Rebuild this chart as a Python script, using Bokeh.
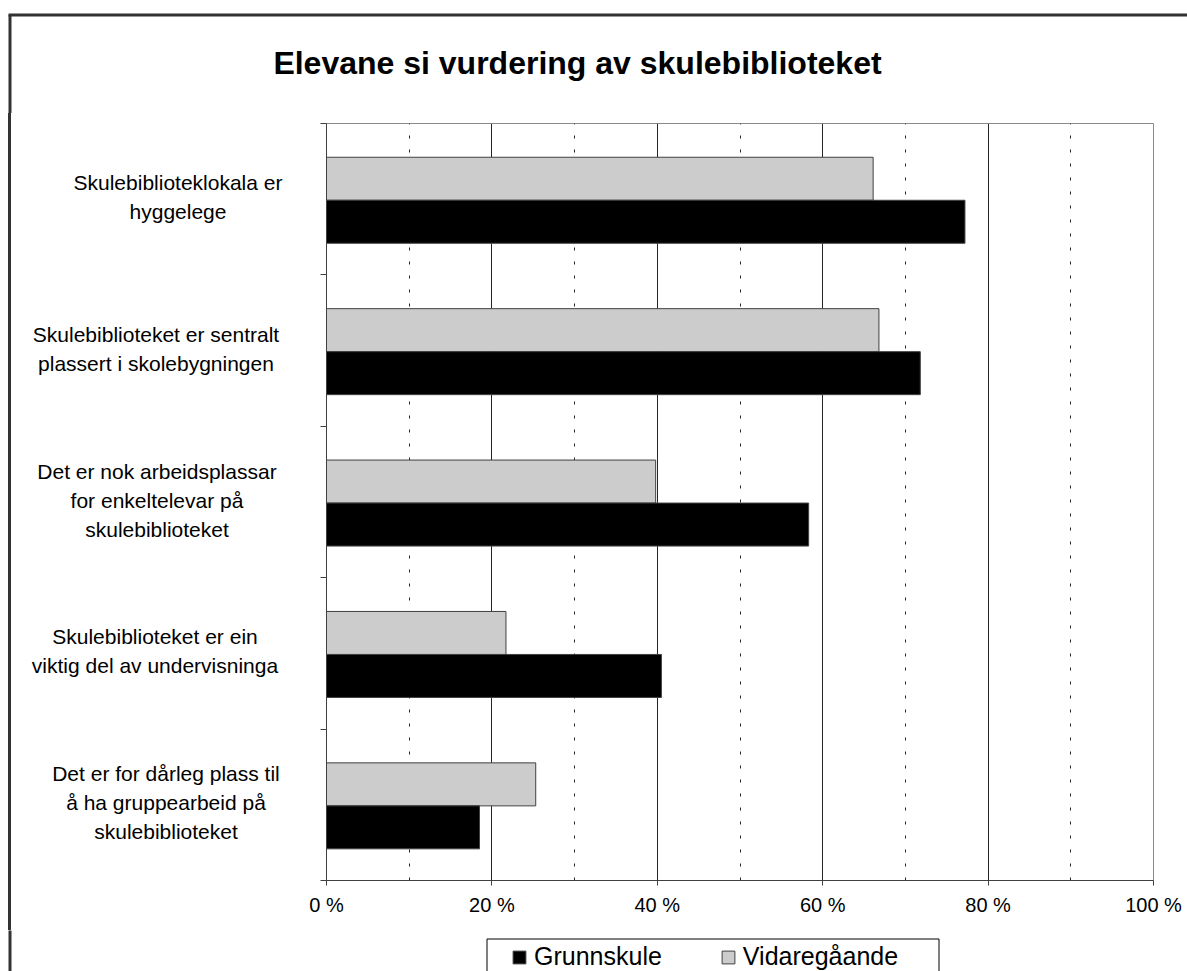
from bokeh.plotting import figure
from bokeh.layouts import column, row
from bokeh.models import Range1d, FixedTicker, Legend, LegendItem, ColumnDataSource, Div
from bokeh.core.properties import value
from bokeh.transform import dodge
from bokeh.embed import file_html
from bokeh.resources import INLINE

# ---------------- data ----------------
title_text = "Elevane si vurdering av skulebiblioteket"
categories = [
    "Skulebiblioteklokala er hyggelege",
    "Skulebiblioteket er sentralt plassert i skolebygningen",
    "Det er nok arbeidsplassar for enkeltelevar på skulebiblioteket",
    "Skulebiblioteket er ein viktig del av undervisninga",
    "Det er for dårleg plass til å ha gruppearbeid på skulebiblioteket",
]
category_lines = [
    ["Skulebiblioteklokala er", "hyggelege"],
    ["Skulebiblioteket er sentralt", "plassert i skolebygningen"],
    ["Det er nok arbeidsplassar", "for enkeltelevar på", "skulebiblioteket"],
    ["Skulebiblioteket er ein", "viktig del av undervisninga"],
    ["Det er for dårleg plass til", "å ha gruppearbeid på", "skulebiblioteket"],
]
series_names = ["Grunnskule", "Vidaregåande"]
grunnskule = [77.2, 71.8, 58.3, 40.5, 18.5]
vidaregaande = [66.1, 66.8, 39.8, 21.7, 25.3]
x_ticks = [0, 20, 40, 60, 80, 100]
x_tick_labels = ["0 %", "20 %", "40 %", "60 %", "80 %", "100 %"]
x_minor_ticks = [10, 30, 50, 70, 90]

# ---------------- layout (picture pixels) ----------------
TOTAL_W, TOTAL_H = 1187, 971
FL, FR, FT, FB = 326, 1153, 123, 880        # chart frame
TOP_H = 113                                  # title strip height
MID_H = 930 - TOP_H                          # chart strip height
BOT_H = TOTAL_H - TOP_H - MID_H              # legend strip height
LEFT_W = 300                                 # category-label column width
N = len(categories)
BAND = (FB - FT) / N
label_centers = [178, 156, 157, 155, 166]    # centre x of each category label block
LINE_STEP = 29
LABEL_NUDGE = -1.5
FONT = "Liberation Sans"
FRAME_X, FRAME_Y = 9.5, 14.5                 # outer chart border (centre of 3px line)
BORDER_COLOR = "#333333"
GRAY = "#CCCCCC"
EDGE = "#404040"


def blank(width, height, y_top, y_bottom):
    f = figure(width=width, height=height,
               x_range=Range1d(0, width), y_range=Range1d(y_bottom, y_top),
               x_axis_location=None, y_axis_location=None,
               toolbar_location=None, output_backend="svg", min_border=0)
    f.outline_line_color = None
    f.grid.visible = False
    f.background_fill_color = "white"
    f.border_fill_color = "white"
    return f


# ---------------- title strip ----------------
top = blank(TOTAL_W, TOP_H, 0, TOP_H)
top.text(x=[577], y=[62], text=[title_text], text_align="center", text_baseline="middle",
         text_font=value(FONT), text_font_size="32px", text_font_style="bold",
         text_color="black")
top.segment(x0=[FRAME_X - 1.5], y0=[FRAME_Y], x1=[TOTAL_W + 5], y1=[FRAME_Y],
            line_color=BORDER_COLOR, line_width=3)
top.segment(x0=[FRAME_X], y0=[FRAME_Y], x1=[FRAME_X], y1=[TOP_H + 5],
            line_color=BORDER_COLOR, line_width=3)

# ---------------- category label column (HTML text) ----------------
parts = ['<div style="position:relative;width:%dpx;height:%dpx;font-family:\'%s\';'
         'font-size:21px;line-height:%dpx;color:black;">' % (LEFT_W, MID_H, FONT, LINE_STEP),
         '<div style="position:absolute;left:%dpx;top:0;width:3px;height:%dpx;'
         'background:%s;"></div>' % (int(FRAME_X - 1.5), MID_H, BORDER_COLOR)]
for i, lines in enumerate(category_lines):
    yc = FT + (i + 0.5) * BAND - TOP_H + LABEL_NUDGE
    k = len(lines)
    top_px = yc - k * LINE_STEP / 2.0
    parts.append('<div style="position:absolute;left:%.1fpx;width:300px;top:%.1fpx;'
                 'text-align:center;white-space:nowrap;">%s</div>'
                 % (label_centers[i] - 150, top_px, "<br>".join(lines)))
parts.append('</div>')
left = Div(text="".join(parts), width=LEFT_W, height=MID_H,
           styles={"margin": "0", "padding": "0", "overflow": "visible"})

# ---------------- chart ----------------
p = figure(width=TOTAL_W - LEFT_W, height=MID_H,
           x_range=Range1d(0, 100), y_range=Range1d(0, N),
           output_backend="svg", toolbar_location=None,
           min_border_left=FL - LEFT_W, min_border_right=TOTAL_W - FR,
           min_border_top=FT - TOP_H, min_border_bottom=TOP_H + MID_H - FB)
p.background_fill_color = "white"
p.border_fill_color = "white"
p.outline_line_color = "#8a8a8a"
p.outline_line_width = 1

ticker = FixedTicker(ticks=x_ticks, minor_ticks=x_minor_ticks)
p.xaxis.ticker = ticker
p.xaxis.major_label_overrides = {t: l for t, l in zip(x_ticks, x_tick_labels)}
p.xaxis.axis_line_color = EDGE
p.xaxis.major_tick_line_color = EDGE
p.xaxis.major_tick_out = 5
p.xaxis.major_tick_in = 0
p.xaxis.minor_tick_line_color = None
p.xaxis.major_label_text_font = FONT
p.xaxis.major_label_text_font_size = "20px"
p.xaxis.major_label_text_color = "black"
p.xaxis.major_label_standoff = 8

p.xgrid.ticker = ticker
p.xgrid.grid_line_color = "#262626"
p.xgrid.grid_line_width = 1
p.xgrid.minor_grid_line_color = "#262626"
p.xgrid.minor_grid_line_dash = "3 11"
p.ygrid.grid_line_color = None

band_ticks = list(range(N + 1))
p.yaxis.ticker = FixedTicker(ticks=band_ticks, minor_ticks=[])
p.yaxis.major_label_overrides = {t: "" for t in band_ticks}
p.yaxis.major_label_standoff = 0
p.yaxis.major_tick_out = 6
p.yaxis.major_tick_in = 0
p.yaxis.minor_tick_line_color = None
p.yaxis.axis_line_color = EDGE
p.yaxis.major_tick_line_color = EDGE

cat_pos = [N - i - 0.5 for i in range(N)]      # first category at the top
src = ColumnDataSource(dict(pos=cat_pos, g=grunnskule, v=vidaregaande))
bar_v = dict(y=dodge("pos", 0.135), height=0.284, left=0, right="v", source=src,
             fill_color=GRAY, line_color=EDGE, line_width=1)
bar_g = dict(y=dodge("pos", -0.149), height=0.284, left=0, right="g", source=src,
             fill_color="black", line_color=EDGE, line_width=1)
p.hbar(**bar_v)
p.hbar(**bar_g)

# ---------------- legend strip ----------------
bot = blank(TOTAL_W, BOT_H, TOP_H + MID_H, TOTAL_H)
bot.segment(x0=[FRAME_X], y0=[TOP_H + MID_H - 5], x1=[FRAME_X], y1=[TOTAL_H + 5],
            line_color=BORDER_COLOR, line_width=3)
bot.quad(left=[486.5], right=[938.5], top=[938.5], bottom=[TOTAL_H + 10],
         fill_color=None, line_color="black", line_width=1)
# legend proxies: the same bars, mapped through ranges that place them off-canvas
bot.extra_x_ranges = {"off": Range1d(5000, 6000)}
bot.extra_y_ranges = {"off": Range1d(5000, 6000)}
r_g = bot.hbar(x_range_name="off", y_range_name="off", **bar_g)
r_v = bot.hbar(x_range_name="off", y_range_name="off", **bar_v)
legend = Legend(items=[LegendItem(label=series_names[0], renderers=[r_g]),
                       LegendItem(label=series_names[1], renderers=[r_v])],
                orientation="horizontal", location=(511, 0),
                border_line_color=None, background_fill_color=None, background_fill_alpha=0,
                padding=0, margin=0, spacing=58,
                glyph_width=16, glyph_height=16, label_standoff=7, label_height=26,
                label_text_font=FONT, label_text_font_size="25px",
                label_text_color="black")
bot.add_layout(legend)

layout = column(top, row(left, p), bot)
open("out.html", "w").write(file_html(layout, INLINE))
